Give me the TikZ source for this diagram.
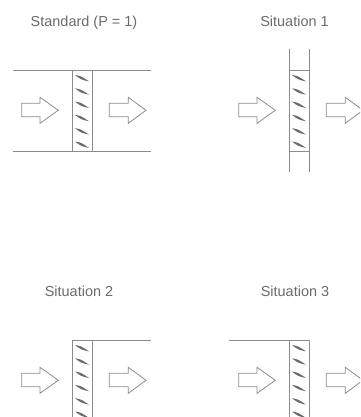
\documentclass[tikz,border=0pt]{standalone}
\usepackage{fontspec}
\setmainfont{Liberation Sans}
\definecolor{wallgray}{gray}{0.55}
\definecolor{textgray}{gray}{0.42}
\tikzset{
  wall/.style={draw=wallgray,line width=0.72pt},
  flow/.style={draw=wallgray,line width=0.6pt,fill=white,line join=miter},
  blade/.style={fill=textgray,draw=none},
  title/.style={anchor=base,text=textgray,font=\fontsize{10.85pt}{12pt}\selectfont,inner sep=0pt},
  pics/filter/.style={code={
    \draw[wall] (0,0) -- (0,81) (20,0) -- (20,81);
    \foreach \i in {0,...,5}
      \fill[blade] (3,5+13.3*\i) .. controls (9,6+13.3*\i) .. (17,11.4+13.3*\i)
        .. controls (9,9.6+13.3*\i) .. cycle;
    \draw[flow] (-50.3,33.3) -- (-32,33.3) -- (-32,27.3) -- (-13.7,40.3) -- (-32,53.3)
      -- (-32,46.7) -- (-50.3,46.7) -- cycle;
    \draw[flow] (37.3,33.3) -- (56.3,33.3) -- (56.3,27.3) -- (74,40.3) -- (56.3,53.3)
      -- (56.3,46.7) -- (37.3,46.7) -- cycle;
  }}
}
\begin{document}
\begin{tikzpicture}[x=0.75pt,y=-0.75pt]
\useasboundingbox (0,0) rectangle (360,417);
\clip (0,0) rectangle (360,417);

\node[title] (std) at (84,26.5) {Standard (P = 1)};
\node[title] (sit1) at (294.5,26.5) {Situation 1};
\node[title] (sit2) at (79,296.5) {Situation 2};
\node[title] (sit3) at (295,296.5) {Situation 3};

% standard
\pic at (72,70) {filter};
\draw[wall] (13,70) -- (151,70) (13,151) -- (151,151);

% situation 1
\pic at (289,70) {filter};
\draw[wall] (289,49) -- (289,172) (309,49) -- (309,172);
\draw[wall] (289,70) -- (309,70) (289,151) -- (309,151);

% situation 2
\pic at (72,340) {filter};
\draw[wall] (72,340) -- (151,340);

% situation 3
\pic at (289,340) {filter};
\draw[wall] (229,340) -- (309,340);
\end{tikzpicture}
\end{document}
